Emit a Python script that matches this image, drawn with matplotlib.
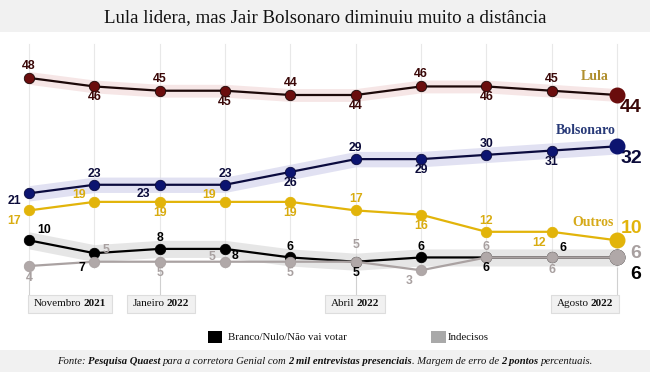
import matplotlib
matplotlib.use("Agg")
import matplotlib.pyplot as plt
import numpy as np
from matplotlib.patches import Rectangle

months = ["Nov21", "Dez21", "Jan22", "Fev22", "Mar22", "Abr22", "Mai22", "Jun22", "Jul22", "Ago22"]
lula = [48, 46, 45, 45, 44, 44, 46, 46, 45, 44]
bolsonaro = [21, 23, 23, 23, 26, 29, 29, 30, 31, 32]
outros = [17, 19, 19, 19, 19, 17, 16, 12, 12, 10]
branco = [10, 7, 8, 8, 6, 5, 6, 6, 6, 6]
indecisos = [4, 5, 5, 5, 5, 5, 3, 6, 6, 6]
tick_idx = [0, 2, 5, 9]
tick_month = ["Novembro ", "Janeiro ", "Abril ", "Agosto "]
tick_year = ["2021", "2022", "2022", "2022"]

W, H = 650, 375
fig = plt.figure(figsize=(6.5, 3.75), dpi=100)
fig.patch.set_facecolor("white")

top_px, bot_px = 40, 290
ax = fig.add_axes([0, (H - bot_px) / H, 1, (bot_px - top_px) / H])
ax.set_facecolor("none")
n = len(lula)
x = np.arange(n)
ppu = (617 - 29) / 9
ax.set_xlim(-29 / ppu, 9 + (W - 617) / ppu)
s = 4.275
ax.set_ylim(44 - (bot_px - 95) / s, 44 + (95 - top_px) / s)
ax.axis("off")

# background bands (title / footer)
fig.patches.append(Rectangle((0, (H - 32) / H), 1, 32 / H, transform=fig.transFigure,
                             facecolor="#f1f1f1", edgecolor="none", zorder=0))
fig.patches.append(Rectangle((0, (H - 372) / H), 1, 22 / H, transform=fig.transFigure,
                             facecolor="#f1f1f1", edgecolor="none", zorder=0))

fig.text(0.5, (H - 18) / H, "Lula lidera, mas Jair Bolsonaro diminuiu muito a distância",
         ha="center", va="center", fontsize=13.6, family="Liberation Serif", color="#111111")

# vertical gridlines
for xi in x:
    ax.plot([xi, xi], [44 - (268 - 95) / s, 44 + (95 - 44) / s], color="#e8e8e8", lw=0.8, zorder=1)
for xi in tick_idx:
    ax.plot([xi, xi], [44 - (295 - 95) / s, 44 - (268 - 95) / s], color="#d0d0d0", lw=0.8, zorder=1,
            clip_on=False)

# bands
ax.fill_between(x, np.array(lula) - 1.5, np.array(lula) + 1.5, color="#f3dede", alpha=0.75, lw=0, zorder=2)
ax.fill_between(x, np.array(bolsonaro) - 1.8, np.array(bolsonaro) + 1.8, color="#dcdcf0", alpha=0.85, lw=0, zorder=2)
ax.fill_between(x, np.array(branco) - 2, np.array(branco) + 2, color="#d2d2d2", alpha=0.55, lw=0, zorder=2)

series = [
    (lula, "#1c0808", "#6a0d0d"),
    (bolsonaro, "#0b0b3e", "#0c1470"),
    (outros, "#e2b40a", "#e2b40a"),
    (branco, "#000000", "#000000"),
    (indecisos, "#aaa2a2", "#b0a8a8"),
]
for zi, (vals, lc, mc) in enumerate(series):
    ax.plot(x, vals, color=lc, lw=1.6, zorder=3 + zi * 0.1)
    ax.plot(x[:-1], vals[:-1], "o", color=mc, ms=7.5, mec=lc, mew=0.6, zorder=3.05 + zi * 0.1)
    ax.plot(x[-1:], vals[-1:], "o", color=mc, ms=10.5, mec=mc, zorder=3.05 + zi * 0.1)

# label offsets in pixels (dx, dy)
U, D = 11, -11
off_lula = [(0, 12), (0, D), (0, 12), (0, D), (0, 12), (0, D), (0, 12), (0, D), (0, 12)]
off_bol = [(-15, -8), (0, U), (-16, -9), (0, U), (0, D), (0, U), (0, D), (0, U), (0, D)]
off_out = [(-15, -11), (-15, 7), (0, D), (-16, 7), (0, D), (0, U), (0, D), (0, U), (-13, -11)]
off_bra = [(15, 10), (-12, -15), (0, U), (10, -7), (0, 10), (0, D), (0, 10), (0, D), (11, 9)]
off_ind = [(0, -12), (12, 12), (0, D), (-13, 5), (0, D), (0, 17), (-12, -11), (0, 10), (0, -13)]

lab = dict(family="Liberation Sans", weight="bold", fontsize=8.8, ha="center", va="center")
for vals, offs, tc in [(lula, off_lula, "#3a0808"), (bolsonaro, off_bol, "#0b0b3a"),
                       (outros, off_out, "#d9ac10"), (branco, off_bra, "#000000"),
                       (indecisos, off_ind, "#a8a0a0")]:
    for i in range(n - 1):
        ax.annotate(str(vals[i]), (x[i], vals[i]), xytext=offs[i], textcoords="offset pixels",
                    color=tc, zorder=6, **lab)

big = dict(family="Liberation Sans", weight="bold", fontsize=14, ha="center", va="center")
ax.annotate(str(lula[-1]), (x[-1], lula[-1]), xytext=(14, -12), textcoords="offset pixels", color="#3a0808", **big)
ax.annotate(str(bolsonaro[-1]), (x[-1], bolsonaro[-1]), xytext=(14, -12), textcoords="offset pixels", color="#0b0b3a", **big)
ax.annotate(str(outros[-1]), (x[-1], outros[-1]), xytext=(15, 12), textcoords="offset pixels", color="#e2b40a", **big)
ax.annotate(str(indecisos[-1]), (x[-1], indecisos[-1]), xytext=(19, 4), textcoords="offset pixels", color="#a8a0a0", **big)
ax.annotate(str(branco[-1]), (x[-1], branco[-1]), xytext=(19, -17), textcoords="offset pixels", color="#000000",
            arrowprops=dict(arrowstyle="-", color="black", lw=0.8, shrinkA=7, shrinkB=5), **big)

# series names
nm = dict(family="Liberation Serif", weight="bold", fontsize=10, ha="center", va="center")
fig.text(595 / W, (H - 76) / H, "Lula", color="#b08f2e", **nm)
fig.text(586 / W, (H - 130) / H, "Bolsonaro", color="#283a78", **nm)
fig.text(593 / W, (H - 223) / H, "Outros", color="#d6aa1a", **nm)

fig.canvas.draw()
renderer = fig.canvas.get_renderer()


def text_w(t, fontsize, kw):
    o = fig.text(0, 0, t, fontsize=fontsize, **kw)
    w = o.get_window_extent(renderer).width
    o.remove()
    return w


def mixed(parts, x0, y0, ha="left", fontsize=9, base=None):
    base = base or {}
    space_w = 0.8 * (text_w("a a", fontsize, base) - text_w("aa", fontsize, base))
    items = []
    for t, kw in parts:
        k = dict(base)
        k.update(kw)
        core = t.strip(" ")
        lead = len(t) - len(t.lstrip(" "))
        trail = len(t) - len(t.rstrip(" "))
        o = fig.text(0, 0, core, fontsize=fontsize, va="center", ha="left", **k)
        w = o.get_window_extent(renderer).width
        items.append((o, lead * space_w, w, trail * space_w))
    total = sum(a + b + c for _, a, b, c in items)
    start = x0 - (total / 2 if ha == "center" else 0)
    cx = start
    for o, a, w, c in items:
        cx += a
        o.set_position((cx / W, (H - y0) / H))
        cx += w + c
    return start, total


# month boxes
box_centers = [70, 161, 355, 585]
for k, (mi, yr) in enumerate(zip(tick_month, tick_year)):
    st, tw = mixed([(mi, {}), (yr, {"weight": "bold"})], box_centers[k], 304, ha="center",
                   fontsize=8, base={"family": "Liberation Serif", "color": "#111111"})
    fig.patches.append(Rectangle(((st - 6) / W, (H - 313) / H), (tw + 12) / W, 18 / H,
                                 transform=fig.transFigure, facecolor="#f1f1f1",
                                 edgecolor="#dddddd", lw=0.8, zorder=0))

# legend
fig.patches.append(Rectangle((208 / W, (H - 343) / H), 14 / W, 12 / H, transform=fig.transFigure,
                             facecolor="#000000", edgecolor="none"))
fig.text(228 / W, (H - 337) / H, "Branco/Nulo/Não vai votar", fontsize=7.8, family="Liberation Serif",
         va="center", color="#111111")
fig.patches.append(Rectangle((431 / W, (H - 343) / H), 15 / W, 12 / H, transform=fig.transFigure,
                             facecolor="#a9a9a9", edgecolor="none"))
fig.text(448 / W, (H - 337) / H, "Indecisos", fontsize=7.8, family="Liberation Serif",
         va="center", color="#111111")

# footer
it = {"style": "italic"}
bi = {"style": "italic", "weight": "bold"}
mixed([("Fonte: ", it), ("Pesquisa Quaest", bi), (" para a corretora Genial com ", it),
       ("2 mil entrevistas presenciais", bi), (". Margem de erro de ", it), ("2 pontos", bi),
       (" percentuais.", it)], 325, 361, ha="center", fontsize=7.7,
      base={"family": "Liberation Serif", "color": "#111111"})

fig.savefig("out.png", dpi=100)
